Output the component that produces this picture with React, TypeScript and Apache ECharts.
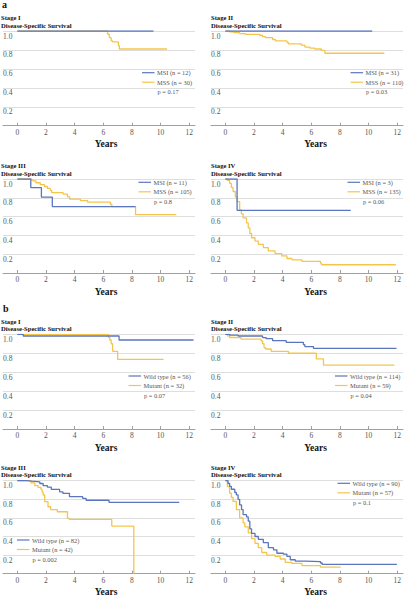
import React, { useEffect, useRef } from "react";
import * as echarts from "echarts";

// ---------- DATA ----------
const stageLabels = ["Stage I", "Stage II", "Stage III", "Stage IV", "Stage I", "Stage II", "Stage III", "Stage IV"];
const panelSubtitle = "Disease-Specific Survival";
const sectionLetters = ["a", "b"];
const groupNamesA = ["MSI", "MSS"];
const groupNamesB = ["Wild type", "Mutant"];
const nCounts = [[12, 30], [31, 110], [11, 105], [3, 135], [56, 32], [114, 59], [82, 42], [90, 57]];
const pValues = ["0.17", "0.03", "0.8", "0.06", "0.07", "0.04", "0.002", "0.1"];
const xTicks = [0, 2, 4, 6, 8, 10, 12];
const xAxisName = "Years";

// Kaplan–Meier curves: [years, survival]
const a1MSI = [[0, 1], [9.5, 1]];
const a1MSS = [[0, 1], [6.3, 0.965], [6.42, 0.93], [6.55, 0.895], [6.65, 0.885], [7.05, 0.845], [7.12, 0.81], [10.45, 0.81]];
const a2MSI = [[0, 1], [10.25, 1]];
const a2MSS = [[0, 1], [0.3, 0.99], [0.6, 0.982], [1.0, 0.973], [1.4, 0.964], [2.4, 0.955], [2.6, 0.94], [2.8, 0.93], [3.3, 0.91], [3.5, 0.895], [4.3, 0.88], [4.4, 0.865], [5.3, 0.85], [5.55, 0.83], [5.9, 0.82], [6.25, 0.81], [6.7, 0.795], [6.95, 0.765], [11.1, 0.765]];
const a3MSI = [[0, 1], [0.94, 0.909], [1.68, 0.808], [2.44, 0.707], [8.25, 0.707]];
const a3MSS = [[0, 1], [1.0, 0.99], [1.1, 0.98], [1.3, 0.96], [1.6, 0.94], [1.9, 0.92], [2.1, 0.9], [2.3, 0.88], [2.4, 0.855], [3.2, 0.84], [3.5, 0.81], [3.65, 0.785], [4.4, 0.77], [4.9, 0.755], [6.5, 0.73], [6.6, 0.707], [8.25, 0.62], [11.1, 0.62]];
const a4MSI = [[0, 1], [0.82, 0.667], [8.75, 0.667]];
const a4MSS = [[0, 1], [0.15, 0.985], [0.3, 0.954], [0.42, 0.91], [0.54, 0.867], [0.7, 0.81], [0.82, 0.76], [1.0, 0.67], [1.12, 0.63], [1.24, 0.586], [1.48, 0.533], [1.6, 0.48], [1.71, 0.42], [1.83, 0.375], [2.07, 0.34], [2.3, 0.305], [2.65, 0.27], [3.0, 0.235], [3.47, 0.207], [3.94, 0.182], [4.3, 0.154], [4.65, 0.14], [5.35, 0.123], [6.64, 0.105], [6.71, 0.088], [11.9, 0.088]];
const b1Wild = [[0, 1], [0.41, 0.982], [7.1, 0.94], [12.3, 0.94]];
const b1Mut = [[0, 1], [6.35, 0.969], [6.45, 0.94], [6.55, 0.9], [6.65, 0.82], [7.0, 0.735], [10.2, 0.735]];
const b2Wild = [[0, 1], [0.3, 0.991], [0.9, 0.982], [2.6, 0.965], [2.85, 0.954], [3.3, 0.933], [4.25, 0.915], [5.45, 0.89], [5.55, 0.87], [6.15, 0.852], [11.95, 0.852]];
const b2Mut = [[0, 1], [0.15, 0.983], [0.3, 0.966], [1.1, 0.948], [2.5, 0.93], [2.6, 0.9], [2.7, 0.86], [2.8, 0.845], [3.2, 0.82], [4.4, 0.8], [6.35, 0.74], [6.85, 0.675], [11.8, 0.675]];
const b3Wild = [[0, 1], [0.65, 0.995], [1.0, 0.988], [1.57, 0.97], [1.8, 0.946], [2.1, 0.93], [2.37, 0.907], [2.95, 0.88], [3.18, 0.864], [3.64, 0.828], [4.56, 0.81], [4.8, 0.79], [6.4, 0.767], [11.3, 0.767]];
const b3Mut = [[0, 1], [0.95, 0.976], [1.22, 0.946], [1.45, 0.928], [1.64, 0.91], [1.72, 0.88], [1.8, 0.846], [1.91, 0.774], [2.14, 0.72], [2.33, 0.69], [2.79, 0.666], [3.5, 0.595], [3.64, 0.584], [6.59, 0.512], [8.13, 0], [8.13, 0]];
const b4Wild = [[0, 1], [0.19, 0.97], [0.3, 0.94], [0.42, 0.908], [0.66, 0.873], [0.77, 0.848], [0.89, 0.8], [1.0, 0.74], [1.13, 0.69], [1.24, 0.635], [1.48, 0.61], [1.6, 0.565], [1.71, 0.483], [1.83, 0.434], [2.07, 0.4], [2.3, 0.37], [2.65, 0.335], [3.0, 0.28], [3.36, 0.257], [3.6, 0.22], [4.06, 0.21], [4.3, 0.186], [4.53, 0.15], [4.88, 0.136], [5.6, 0.13], [6.64, 0.115], [6.76, 0.1], [11.97, 0.1]];
const b4Mut = [[0, 1], [0.14, 0.936], [0.3, 0.866], [0.42, 0.82], [0.54, 0.777], [0.77, 0.69], [1.0, 0.6], [1.24, 0.547], [1.36, 0.504], [1.6, 0.44], [1.83, 0.377], [2.07, 0.327], [2.3, 0.28], [2.54, 0.228], [2.89, 0.2], [3.47, 0.186], [3.83, 0.158], [4.18, 0.122], [4.65, 0.11], [5.35, 0.087], [6.64, 0.07], [8.05, 0.07]];

const curvesBlue = [a1MSI, a2MSI, a3MSI, a4MSI, b1Wild, b2Wild, b3Wild, b4Wild];
const curvesYellow = [a1MSS, a2MSS, a3MSS, a4MSS, b1Mut, b2Mut, b3Mut, b4Mut];

// ---------- STYLE / LAYOUT ----------
const BLUE = "#5b76bd";
const YELLOW = "#f3c64b";
const FONT = '"Liberation Serif", "DejaVu Serif", serif';
const cols = [{ left: 1, width: 194 }, { left: 211, width: 192 }];
const rows = [
  { top: 31, height: 94.7 },
  { top: 179, height: 94 },
  { top: 334.3, height: 94.7 },
  { top: 480.7, height: 93 },
];
const legendPos = [
  { x: 142, y: 72.7 },
  { x: 350.5, y: 72.7 },
  { x: 138.5, y: 182.3 },
  { x: 347.5, y: 182.3 },
  { x: 128.5, y: 376 },
  { x: 335, y: 376 },
  { x: 17, y: 540 },
  { x: 337.5, y: 483.3 },
];
const yearsX = [106, 315.5];
const letterPos = [{ x: 2, y: 4 }, { x: 3, y: 308.3 }];

export default function App() {
  const ref = useRef<HTMLDivElement>(null);
  useEffect(() => {
    if (!ref.current) return;
    const chart = echarts.init(ref.current, null, { renderer: "svg" });
    const n = stageLabels.length;
    const grids: any[] = [];
    const xAxes: any[] = [];
    const yAxes: any[] = [];
    const series: any[] = [];
    const graphics: any[] = [];
    for (let i = 0; i < n; i++) {
      const c = cols[i % 2];
      const r = rows[Math.floor(i / 2)];
      grids.push({ left: c.left, width: c.width, top: r.top, height: r.height });
      xAxes.push({
        type: "value",
        gridIndex: i,
        min: -1,
        max: 12.4,
        axisLine: { show: true, lineStyle: { color: "#a0a0a0", width: 1 } },
        axisTick: { show: true, inside: true, length: 3, customValues: xTicks, lineStyle: { color: "#a0a0a0" } },
        axisLabel: { customValues: xTicks, fontSize: 7.5, color: "#555", fontFamily: FONT, margin: 2.5 },
        splitLine: { show: false },
      });
      yAxes.push({
        type: "value",
        gridIndex: i,
        min: 0,
        max: 1,
        interval: 0.2,
        axisLine: { show: false },
        axisTick: { show: false },
        axisLabel: {
          inside: true,
          margin: 0,
          verticalAlign: "top",
          padding: [1, 0, 0, 0],
          fontSize: 7.5,
          color: "#555",
          fontFamily: FONT,
          formatter: (v: number) => (v === 0 ? "" : v.toFixed(1)),
        },
        splitLine: { show: true, lineStyle: { color: "#dedede", width: 1 } },
      });
      const names = i < 4 ? groupNamesA : groupNamesB;
      const nameY = `${names[1]} (n = ${nCounts[i][1]})`;
      const nameB = `${names[0]} (n = ${nCounts[i][0]})`;
      series.push({
        type: "line",
        name: nameY + "#" + i,
        xAxisIndex: i,
        yAxisIndex: i,
        step: "end",
        showSymbol: false,
        symbol: "none",
        data: curvesYellow[i],
        lineStyle: { color: YELLOW, width: 1.3 },
        itemStyle: { color: YELLOW },
      });
      series.push({
        type: "line",
        name: nameB + "#" + i,
        xAxisIndex: i,
        yAxisIndex: i,
        step: "end",
        showSymbol: false,
        symbol: "none",
        data: curvesBlue[i],
        lineStyle: { color: BLUE, width: 1.3 },
        itemStyle: { color: BLUE },
      });
      graphics.push({
        type: "text",
        x: c.left,
        y: r.top - 13.3,
        style: { text: stageLabels[i], fontSize: 6.6, fontWeight: "bold", fontFamily: FONT, fill: "#111", verticalAlign: "middle", align: "left" },
      });
      graphics.push({
        type: "text",
        x: c.left,
        y: r.top - 6,
        style: { text: panelSubtitle, fontSize: 6.6, fontWeight: "bold", fontFamily: FONT, fill: "#111", verticalAlign: "middle", align: "left" },
      });
      graphics.push({
        type: "text",
        x: yearsX[i % 2],
        y: r.top + r.height + 18.5,
        style: { text: xAxisName, fontSize: 9.5, fontWeight: "bold", fontFamily: FONT, fill: "#111", verticalAlign: "middle", align: "center" },
      });
      const lp = legendPos[i];
      const items = [
        { color: BLUE, text: nameB },
        { color: YELLOW, text: nameY },
      ];
      items.forEach((it, k) => {
        const yy = lp.y + k * 9.5;
        graphics.push({ type: "line", shape: { x1: lp.x, y1: yy, x2: lp.x + 12.5, y2: yy }, style: { stroke: it.color, lineWidth: 1.2 } });
        graphics.push({
          type: "text",
          x: lp.x + 15,
          y: yy,
          style: { text: it.text, fontSize: 6.4, fontFamily: FONT, fill: "#555", verticalAlign: "middle", align: "left" },
        });
      });
      graphics.push({
        type: "text",
        x: lp.x + 15.5,
        y: lp.y + 19,
        style: { text: `p = ${pValues[i]}`, fontSize: 6.4, fontFamily: FONT, fill: "#555", verticalAlign: "middle", align: "left" },
      });
    }
    sectionLetters.forEach((l, k) => {
      graphics.push({
        type: "text",
        x: letterPos[k].x,
        y: letterPos[k].y,
        style: { text: l, fontSize: 10, fontWeight: "bold", fontFamily: FONT, fill: "#111", verticalAlign: "middle", align: "left" },
      });
    });
    chart.setOption({
      animation: false,
      backgroundColor: "#ffffff",
      grid: grids,
      xAxis: xAxes,
      yAxis: yAxes,
      series,
      graphic: graphics,
    });
    return () => chart.dispose();
  }, []);
  return <div ref={ref} style={{ position: "absolute", left: 0, top: 0, width: 410, height: 600 }} />;
}
